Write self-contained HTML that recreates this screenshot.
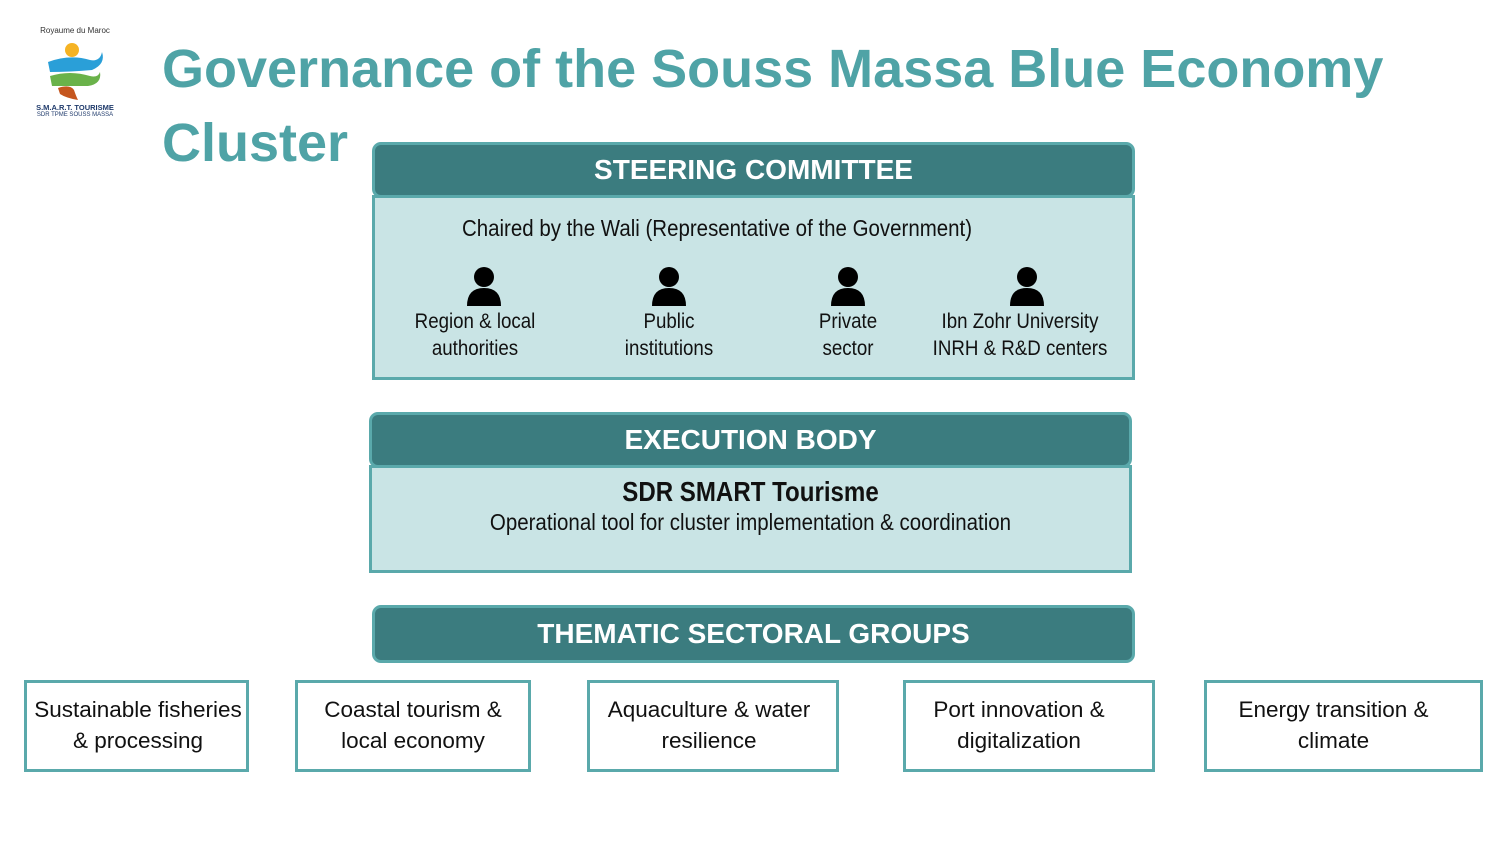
<!DOCTYPE html>
<html><head><meta charset="utf-8"><style>
body{margin:0;width:1500px;height:844px;background:#fff;position:relative;overflow:hidden;font-family:"Liberation Sans",sans-serif}
.a{position:absolute;box-sizing:border-box}
.hd{background:#3b7c7f;border:3px solid #5aa9ab;border-radius:9px;color:#fff;font-weight:bold;font-size:28px;text-align:center;display:flex;align-items:center;justify-content:center}
.bd{background:#c9e4e5;border:3px solid #5aa9ab}
.n{color:#111;text-align:center;position:absolute;white-space:nowrap;transform-origin:center}
.bx{border:3px solid #5aa9ab;background:#fff;font-size:22.5px;color:#111;text-align:center;line-height:31px;padding-top:11px;white-space:nowrap}
.t{position:absolute;color:#4fa3a6;font-weight:bold;font-size:54px;white-space:nowrap}
</style></head><body>
<div class="a" style="left:20px;top:26px;width:110px;text-align:center;font-size:8px;color:#333">Royaume du Maroc</div>
<svg class="a" style="left:40px;top:40px" width="70" height="62" viewBox="0 0 70 62">
<circle cx="32" cy="10" r="7" fill="#f5b324"/>
<path d="M8 22 Q30 14 50 20 Q60 22 62 12 Q66 24 52 30 Q30 32 10 32 Z" fill="#2a9fd8"/>
<path d="M10 36 Q30 30 50 36 Q58 38 60 32 Q62 44 48 46 Q30 46 12 46 Z" fill="#6ab24a"/>
<path d="M18 48 Q30 44 34 50 Q36 56 38 60 Q26 58 20 54 Z" fill="#c5561e"/>
</svg>
<div class="a" style="left:20px;top:103px;width:110px;text-align:center;font-size:7.5px;font-weight:bold;color:#1f3a6b">S.M.A.R.T. TOURISME</div>
<div class="a" style="left:20px;top:112px;width:110px;text-align:center;font-size:6px;color:#1f3a6b">SDR TPME SOUSS MASSA</div>
<div class="t" style="left:162px;top:38px">Governance of the Souss Massa Blue Economy</div>
<div class="t" style="left:162px;top:112px">Cluster</div>

<div class="a bd" style="left:372px;top:195px;width:763px;height:185px"></div>
<div class="a hd" style="left:372px;top:142px;width:763px;height:56px">STEERING COMMITTEE</div>
<div class="n" style="left:372px;width:690px;top:215px;font-size:23px;transform:scaleX(0.89)">Chaired by the Wali (Representative of the Government)</div>
<svg width="0" height="0" style="position:absolute"><defs><g id="p"><circle cx="18" cy="11" r="10"/><path d="M1 40 Q1 22 18 22 Q35 22 35 40 Z"/></g></defs></svg>
<svg class="a" style="left:466px;top:266px" width="36" height="40"><use href="#p"/></svg>
<svg class="a" style="left:651px;top:266px" width="36" height="40"><use href="#p"/></svg>
<svg class="a" style="left:830px;top:266px" width="36" height="40"><use href="#p"/></svg>
<svg class="a" style="left:1009px;top:266px" width="36" height="40"><use href="#p"/></svg>
<div class="n" style="left:375px;width:200px;top:308px;font-size:21.5px;line-height:27px;transform:scaleX(0.87)">Region &amp; local<br>authorities</div>
<div class="n" style="left:569px;width:200px;top:308px;font-size:21.5px;line-height:27px;transform:scaleX(0.87)">Public<br>institutions</div>
<div class="n" style="left:748px;width:200px;top:308px;font-size:21.5px;line-height:27px;transform:scaleX(0.87)">Private<br>sector</div>
<div class="n" style="left:900px;width:240px;top:308px;font-size:21.5px;line-height:27px;transform:scaleX(0.87)">Ibn Zohr University<br>INRH &amp; R&amp;D centers</div>

<div class="a bd" style="left:369px;top:465px;width:763px;height:108px"></div>
<div class="a hd" style="left:369px;top:412px;width:763px;height:56px">EXECUTION BODY</div>
<div class="n" style="left:369px;width:763px;top:476px;font-size:28px;font-weight:bold;transform:scaleX(0.86)">SDR SMART Tourisme</div>
<div class="n" style="left:369px;width:763px;top:509px;font-size:23px;transform:scaleX(0.89)">Operational tool for cluster implementation &amp; coordination</div>

<div class="a hd" style="left:372px;top:605px;width:763px;height:58px">THEMATIC SECTORAL GROUPS</div>
<div class="a bx" style="left:24px;top:680px;width:225px;height:92px;padding-left:3px">Sustainable fisheries<br>&amp; processing</div>
<div class="a bx" style="left:295px;top:680px;width:236px;height:92px">Coastal tourism &amp;<br>local economy</div>
<div class="a bx" style="left:587px;top:680px;width:252px;height:92px;padding-right:8px">Aquaculture &amp; water<br>resilience</div>
<div class="a bx" style="left:903px;top:680px;width:252px;height:92px;padding-right:20px">Port innovation &amp;<br>digitalization</div>
<div class="a bx" style="left:1204px;top:680px;width:279px;height:92px;padding-right:20px">Energy transition &amp;<br>climate</div>
</body></html>
